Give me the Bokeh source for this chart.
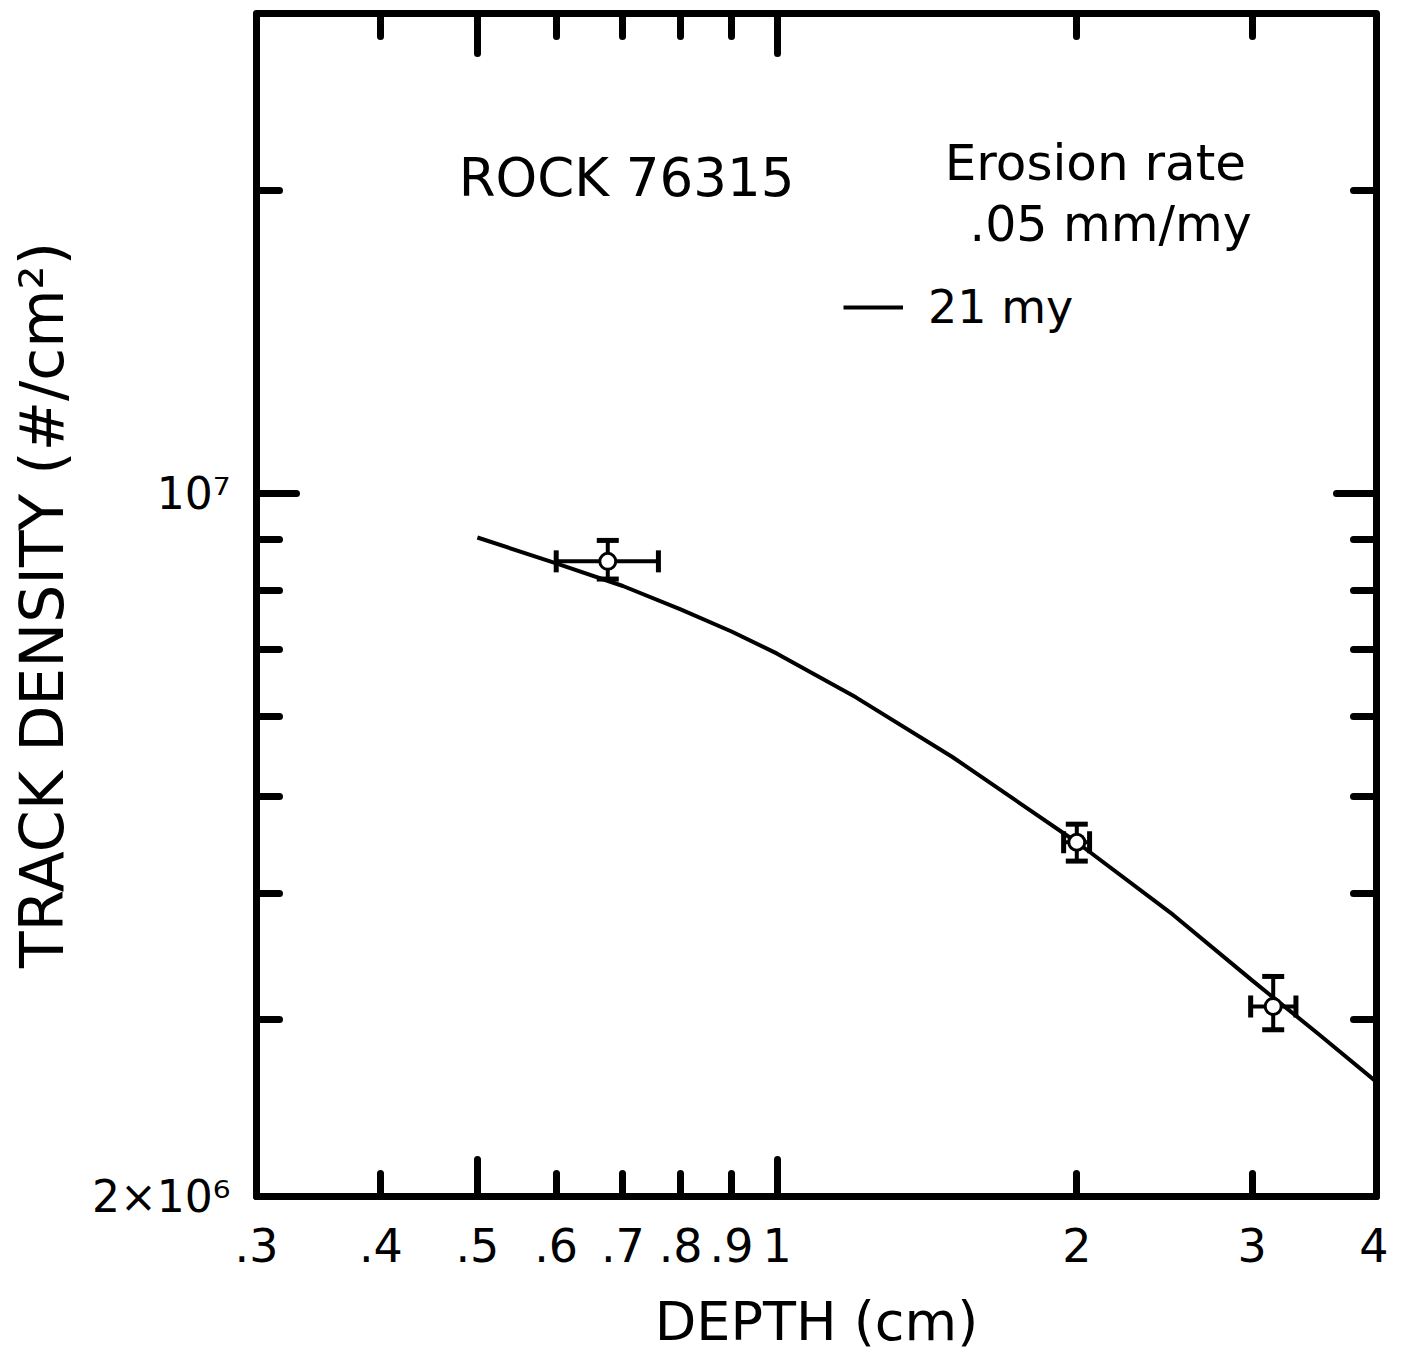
from bokeh.plotting import figure
from bokeh.models import (LogAxis, FixedTicker, Whisker, TeeHead, Label, Legend,
                          LegendItem, ColumnDataSource, Range1d)
from bokeh.embed import file_html
from bokeh.resources import INLINE

FONT = "DejaVu Sans"

# ---- data ----
curve_depth = [0.5, 0.6, 0.7, 0.8, 0.9, 1.0, 1.2, 1.5, 2.0, 2.5, 3.0, 3.5, 4.0]
curve_density = [9.04e6, 8.52e6, 8.09e6, 7.67e6, 7.29e6, 6.93e6, 6.27e6, 5.47e6,
                 4.50e6, 3.81e6, 3.28e6, 2.90e6, 2.60e6]

pt_depth = [0.676, 2.0, 3.15]
pt_density = [8.56e6, 4.50e6, 3.09e6]
pt_depth_lo = [0.60, 1.94, 2.99]
pt_depth_hi = [0.76, 2.06, 3.32]
pt_density_lo = [8.22e6, 4.31e6, 2.93e6]
pt_density_hi = [8.98e6, 4.69e6, 3.31e6]

x_ticks = [0.3, 0.4, 0.5, 0.6, 0.7, 0.8, 0.9, 1.0, 2.0, 3.0, 4.0]
x_tick_labels = [".3", ".4", ".5", ".6", ".7", ".8", ".9", "1", "2", "3", "4"]
x_long_ticks = [0.5, 1.0]

y_label_ticks = [2e6, 1e7]
y_tick_labels = ["2×10⁶", "10⁷"]
y_short_ticks = [3e6, 4e6, 5e6, 6e6, 7e6, 8e6, 9e6, 2e7]

x_limits = (0.3, 4.0)
y_limits = (2e6, 3e7)

# ---- figure ----
p = figure(x_axis_type="log", y_axis_type="log",
           x_range=Range1d(*x_limits), y_range=Range1d(*y_limits),
           frame_width=1120, frame_height=1183,
           min_border_left=256, min_border_top=13, min_border_right=12,
           min_border_bottom=155,
           output_backend="svg", toolbar_location=None,
           background_fill_color="white", border_fill_color="white")
p.grid.visible = False
p.outline_line_color = "black"
p.outline_line_width = 7


def style_axis(ax, major_len, minor_len):
    ax.axis_line_color = None
    ax.major_tick_in = major_len
    ax.major_tick_out = 0
    ax.minor_tick_in = minor_len
    ax.minor_tick_out = 0
    ax.major_tick_line_width = 7
    ax.minor_tick_line_width = 7
    ax.major_tick_line_cap = "round"
    ax.minor_tick_line_cap = "round"
    ax.major_tick_line_color = "black"
    ax.minor_tick_line_color = "black"
    ax.major_label_text_font = FONT
    ax.major_label_text_color = "black"
    ax.axis_label_text_font = FONT
    ax.axis_label_text_font_style = "normal"
    ax.axis_label_text_color = "black"


x_override = {float(t): s for t, s in zip(x_ticks, x_tick_labels)}
y_override = {float(t): s for t, s in zip(y_label_ticks, y_tick_labels)}

# bottom axis
xa = p.xaxis[0]
xa.ticker = FixedTicker(ticks=x_ticks, minor_ticks=x_long_ticks)
xa.major_label_overrides = x_override
style_axis(xa, 23, 37)
xa.major_label_text_font_size = "46px"
xa.major_label_standoff = 31
xa.axis_label = "DEPTH (cm)"
xa.axis_label_text_font_size = "54px"
xa.axis_label_standoff = 25

# left axis
ya = p.yaxis[0]
ya.ticker = FixedTicker(ticks=y_label_ticks, minor_ticks=y_short_ticks)
ya.major_label_overrides = y_override
style_axis(ya, 40, 23)
ya.major_label_text_font_size = "44px"
ya.major_label_standoff = 26
ya.axis_label = "TRACK DENSITY (#/cm²)"
ya.axis_label_text_font_size = "60px"
ya.axis_label_standoff = 12

# top axis (ticks only)
xt = LogAxis(ticker=FixedTicker(ticks=x_ticks, minor_ticks=x_long_ticks))
style_axis(xt, 23, 40)
xt.major_label_text_font_size = "1px"
xt.major_label_text_color = None
xt.major_label_standoff = 0
p.add_layout(xt, "above")

# right axis (ticks only)
yr = LogAxis(ticker=FixedTicker(ticks=y_label_ticks, minor_ticks=y_short_ticks))
style_axis(yr, 40, 23)
yr.major_label_text_font_size = "1px"
yr.major_label_text_color = None
yr.major_label_standoff = 0
p.add_layout(yr, "right")

# ---- model curve ----
r_curve = p.line(curve_depth, curve_density, line_width=4, line_color="black",
                 line_join="round")

# ---- measured points with error bars ----
src = ColumnDataSource(dict(x=pt_depth, y=pt_density, xlo=pt_depth_lo, xhi=pt_depth_hi,
                            ylo=pt_density_lo, yhi=pt_density_hi))
p.add_layout(Whisker(source=src, base="x", lower="ylo", upper="yhi", dimension="height",
                     line_width=4, line_color="black",
                     upper_head=TeeHead(size=22, line_width=5, line_color="black"),
                     lower_head=TeeHead(size=22, line_width=5, line_color="black")))
p.add_layout(Whisker(source=src, base="y", lower="xlo", upper="xhi", dimension="width",
                     line_width=4, line_color="black",
                     upper_head=TeeHead(size=22, line_width=5, line_color="black"),
                     lower_head=TeeHead(size=22, line_width=5, line_color="black")))
p.scatter("x", "y", source=src, marker="circle", size=16, fill_color="white",
          line_color="black", line_width=3)

# ---- texts ----
p.add_layout(Label(x=0.706, y=2.06e7, text="ROCK 76315", text_font=FONT,
                   text_font_size="53px", text_align="center", text_baseline="middle",
                   text_color="black"))
p.add_layout(Label(x=2.088, y=2.13e7, text="Erosion rate", text_font=FONT,
                   text_font_size="50px", text_align="center", text_baseline="middle",
                   text_color="black"))
p.add_layout(Label(x=2.163, y=1.85e7, text=".05 mm/my", text_font=FONT,
                   text_font_size="49px", text_align="center", text_baseline="middle",
                   text_color="black"))

legend = Legend(items=[LegendItem(label="21 my", renderers=[r_curve])],
                location=(587, 862), padding=0, margin=0, spacing=0,
                glyph_width=60, glyph_height=20, label_standoff=25,
                label_text_font=FONT, label_text_font_size="46px",
                label_text_color="black", border_line_color=None,
                background_fill_alpha=0)
p.add_layout(legend)

open("out.html", "w").write(file_html(p, INLINE))
